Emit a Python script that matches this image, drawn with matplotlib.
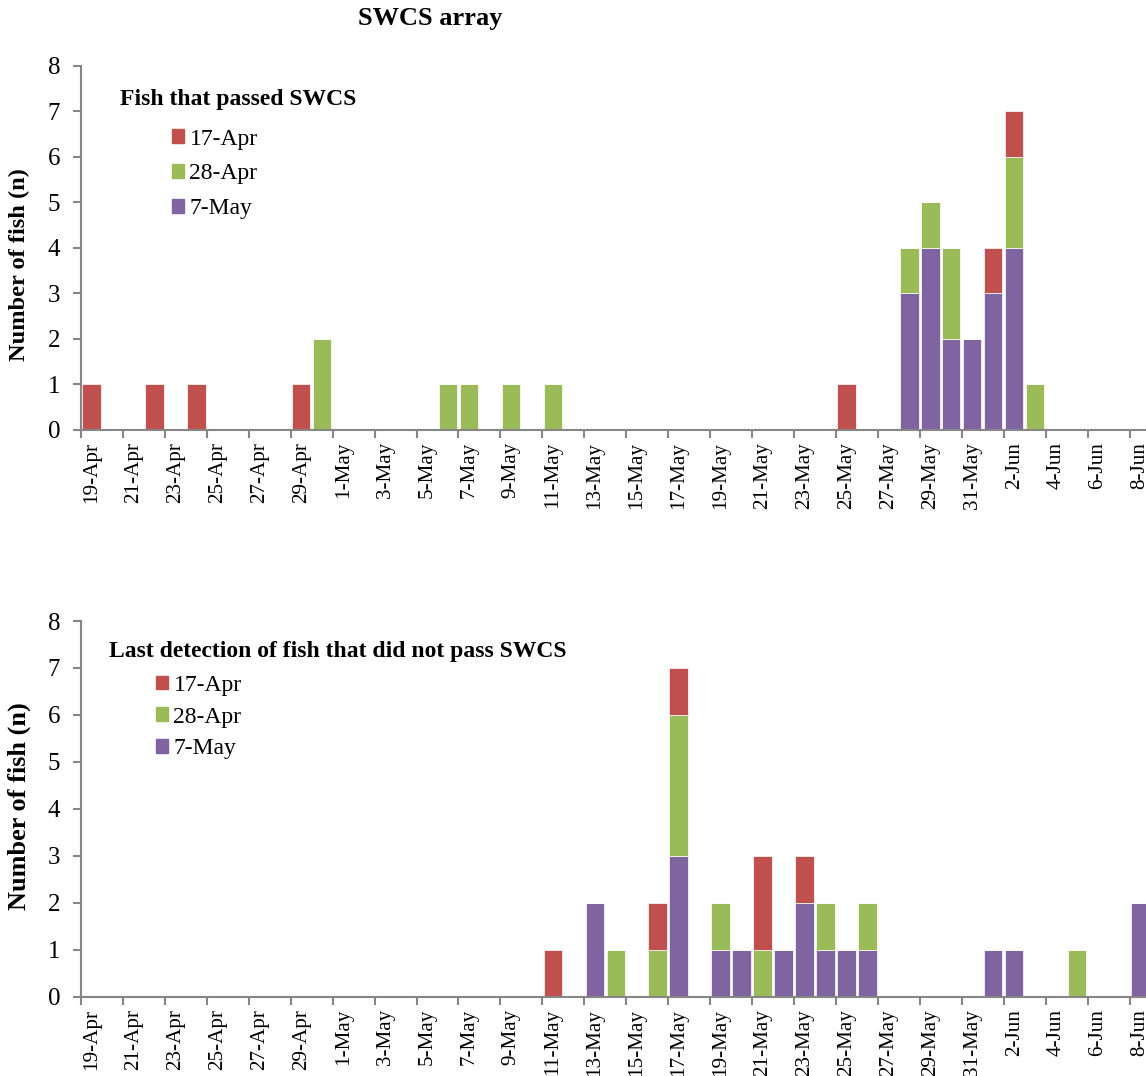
import numpy as np
import pandas as pd
import matplotlib
matplotlib.use('Agg')
import matplotlib.pyplot as plt
from matplotlib.patches import Patch

plt.rcParams['font.family'] = ['Liberation Serif', 'DejaVu Serif']

# release groups and colours
groups = ['17-Apr', '28-Apr', '7-May']
colors = ['#C0504D', '#9BBB59', '#8064A2']

# fish that passed SWCS, by day of passage
passed_days = ['19-Apr', '22-Apr', '24-Apr', '29-Apr', '30-Apr', '6-May', '7-May', '9-May',
               '11-May', '25-May', '28-May', '29-May', '30-May', '31-May', '1-Jun', '2-Jun', '3-Jun']
passed_apr17 = [1, 1, 1, 1, 0, 0, 0, 0, 0, 1, 0, 0, 0, 0, 1, 1, 0]
passed_apr28 = [0, 0, 0, 0, 2, 1, 1, 1, 1, 0, 1, 1, 2, 0, 0, 2, 1]
passed_may7 = [0, 0, 0, 0, 0, 0, 0, 0, 0, 0, 3, 4, 2, 2, 3, 4, 0]

# fish that did not pass, by day of last detection
lost_days = ['11-May', '13-May', '14-May', '16-May', '17-May', '19-May', '20-May', '21-May', '22-May',
             '23-May', '24-May', '25-May', '26-May', '1-Jun', '2-Jun', '5-Jun', '8-Jun']
lost_apr17 = [1, 0, 0, 1, 1, 0, 0, 2, 0, 1, 0, 0, 0, 0, 0, 0, 0]
lost_apr28 = [0, 0, 1, 1, 3, 1, 0, 1, 0, 0, 1, 0, 1, 0, 0, 1, 0]
lost_may7 = [0, 2, 0, 0, 3, 1, 1, 0, 1, 2, 1, 1, 1, 1, 1, 0, 2]

dates = pd.date_range('2013-04-19', '2013-06-10')
labels = [f'{d.day}-{d:%b}' for d in dates]

W, H = 1146, 1076
fig = plt.figure(figsize=(W / 100, H / 100), dpi=100)
gray = '#868686'
ndays = 52
x0 = 81
day_px = 20.97


def panel(bottom_px, top_px, days, apr17, apr28, may7, title, title_xy, leg_xy, spacing,
          ylab_y, ylab_size):
    ax = fig.add_axes([x0 / W, 1 - bottom_px / H, ndays * day_px / W, (bottom_px - top_px) / H])
    pos = np.array([labels.index(d) for d in days])
    base = np.zeros(len(pos))
    for vals, c in [(may7, colors[2]), (apr28, colors[1]), (apr17, colors[0])]:
        vals = np.array(vals)
        ax.bar(pos, vals, bottom=base, width=0.88, color=c, edgecolor='white', linewidth=0.5)
        base += vals
    ax.set_xlim(-0.5, ndays - 0.5)
    ax.set_ylim(0, 8)
    ax.set_yticks(range(9))
    ax.tick_params(axis='y', labelsize=18, length=6, color=gray, width=1.5, pad=9)
    ax.set_xticks(np.arange(-0.5, ndays, 2))
    ax.set_xticklabels([])
    ax.set_xticks(np.arange(0, ndays, 2), minor=True)
    ax.set_xticklabels(labels[0:ndays:2], minor=True, rotation=90, fontsize=15.2)
    ax.tick_params(axis='x', which='major', length=6, color=gray, width=1.5)
    ax.tick_params(axis='x', which='minor', length=0, pad=9)
    for s in ['top', 'right']:
        ax.spines[s].set_visible(False)
    for s in ['left', 'bottom']:
        ax.spines[s].set_color(gray)
        ax.spines[s].set_linewidth(1.5)
    fig.text(title_xy[0] / W, 1 - title_xy[1] / H, title, fontsize=17, fontweight='bold',
             ha='left', va='center')
    handles = [Patch(color=c) for c in colors]
    fig.legend(handles, groups, loc='center left', bbox_to_anchor=(leg_xy[0] / W, 1 - leg_xy[1] / H),
               frameon=False, fontsize=17, handlelength=0.52, handleheight=0.52,
               handletextpad=0.22, labelspacing=spacing, borderpad=0, borderaxespad=0)
    fig.text(19.5 / W, 1 - ylab_y / H, 'Number of fish (n)', fontsize=ylab_size,
             fontweight='bold', rotation=90, ha='center', va='center')
    return ax


panel(429.5, 66, passed_days, passed_apr17, passed_apr28, passed_may7,
      'Fish that passed SWCS', (120, 100), (172, 174), 0.59, 265, 17.6)
panel(996.5, 621, lost_days, lost_apr17, lost_apr28, lost_may7,
      'Last detection of fish that did not pass SWCS', (109, 651), (156, 717), 0.45, 806, 18.9)

fig.text(430.5 / W, 1 - 19 / H, 'SWCS array', fontsize=19, fontweight='bold', ha='center', va='center')

fig.savefig('out.png', dpi=100)
